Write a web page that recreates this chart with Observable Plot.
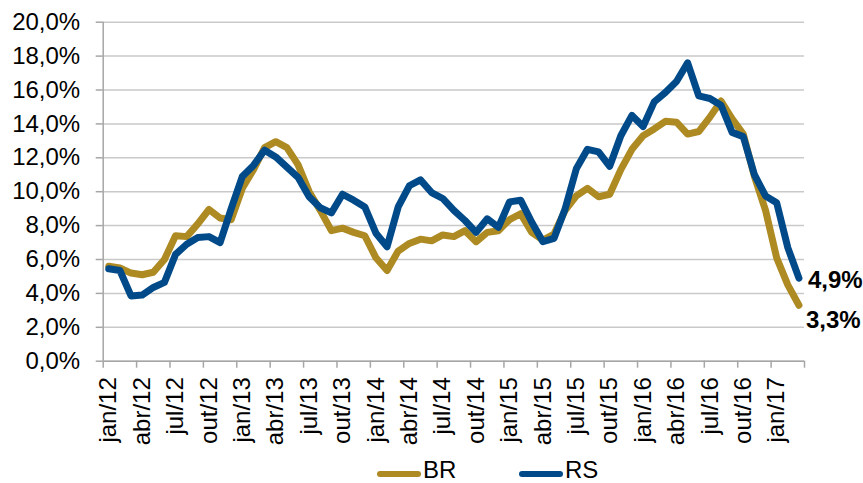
<!DOCTYPE html>
<html>
<head>
<meta charset="utf-8">
<script src="https://cdn.jsdelivr.net/npm/d3@7"></script>
<script src="https://cdn.jsdelivr.net/npm/@observablehq/plot@0.6"></script>
<style>
  body { margin: 0; background: #fff; font-family: "Liberation Sans", Arial, sans-serif; }
  #wrap { position: relative; width: 863px; height: 483px; }
  #legend { position: absolute; left: 0; top: 455px; width: 863px; height: 28px; font-size: 24px; color: #000; }
  .sw { position: absolute; top: 16px; width: 44px; height: 6px; border-radius: 3px; }
  .lt { position: absolute; top: 1px; line-height: normal; }
</style>
</head>
<body>
<div id="wrap">
  <div id="chart"></div>
  <div id="legend"></div>
</div>
<script>
const months = [
  "jan/12","fev/12","mar/12","abr/12","mai/12","jun/12","jul/12","ago/12","set/12","out/12","nov/12","dez/12",
  "jan/13","fev/13","mar/13","abr/13","mai/13","jun/13","jul/13","ago/13","set/13","out/13","nov/13","dez/13",
  "jan/14","fev/14","mar/14","abr/14","mai/14","jun/14","jul/14","ago/14","set/14","out/14","nov/14","dez/14",
  "jan/15","fev/15","mar/15","abr/15","mai/15","jun/15","jul/15","ago/15","set/15","out/15","nov/15","dez/15",
  "jan/16","fev/16","mar/16","abr/16","mai/16","jun/16","jul/16","ago/16","set/16","out/16","nov/16","dez/16",
  "jan/17","fev/17","mar/17"
];
const br = [
  5.6, 5.5, 5.2, 5.1, 5.25, 6.0, 7.4, 7.35, 8.1, 8.95, 8.45, 8.35,
  10.2, 11.3, 12.6, 12.95, 12.6, 11.6, 10.0, 8.9, 7.7, 7.85, 7.6, 7.4,
  6.1, 5.35, 6.5, 6.95, 7.2, 7.1, 7.45, 7.35, 7.7, 7.05, 7.6, 7.7,
  8.35, 8.7, 7.6, 7.15, 7.5, 8.9, 9.75, 10.2, 9.7, 9.85, 11.3, 12.5,
  13.3, 13.7, 14.15, 14.1, 13.4, 13.55, 14.4, 15.35, 14.3, 13.4, 10.9, 8.9,
  6.1, 4.5, 3.3
];
const rs = [
  5.45, 5.35, 3.85, 3.9, 4.35, 4.65, 6.3, 6.9, 7.3, 7.35, 7.0, 9.0,
  10.9, 11.55, 12.45, 12.05, 11.45, 10.85, 9.7, 9.05, 8.75, 9.85, 9.5, 9.1,
  7.55, 6.75, 9.1, 10.35, 10.7, 9.95, 9.6, 8.9, 8.3, 7.6, 8.4, 7.9,
  9.4, 9.5, 8.2, 7.05, 7.25, 9.0, 11.35, 12.5, 12.35, 11.5, 13.3, 14.5,
  13.85, 15.3, 15.85, 16.5, 17.6, 15.65, 15.5, 15.1, 13.5, 13.25, 11.0, 9.75,
  9.35, 6.7, 4.9
];
const tickLabels = ["jan/12","abr/12","jul/12","out/12","jan/13","abr/13","jul/13","out/13","jan/14","abr/14","jul/14",
  "out/14","jan/15","abr/15","jul/15","out/15","jan/16","abr/16","jul/16","out/16","jan/17"];
const yTicks = [0, 2, 4, 6, 8, 10, 12, 14, 16, 18, 20];
const seriesNames = ["BR", "RS"];
const colors = ["#AE8A23", "#004A89"];

const data = months.map((m, i) => ({i, m, br: br[i], rs: rs[i]}));
const labelIdx = tickLabels.map(l => months.indexOf(l));
const boundaries = d3.range(0, months.length + 1, 3).map(k => k - 0.5);
if (boundaries[boundaries.length - 1] !== months.length - 0.5) boundaries.push(months.length - 0.5);
const last = data[data.length - 1];
const fmt = v => v.toFixed(1).replace(".", ",") + "%";
const axisGray = "#a6a6a6";

const chart = Plot.plot({
  width: 863,
  height: 455,
  marginLeft: 102.7,
  marginRight: 59,
  marginTop: 21.7,
  marginBottom: 94.3,
  style: {fontFamily: "'Liberation Sans', Arial, sans-serif", fontSize: "24px", color: "#000", background: "#fff"},
  x: {type: "linear", domain: [-0.5, months.length - 0.5]},
  y: {domain: [0, 20]},
  marks: [
    Plot.gridY(yTicks, {stroke: "#c9c9c9", strokeOpacity: 1, strokeWidth: 1.5}),
    Plot.ruleX([-0.5], {stroke: axisGray, strokeWidth: 1.5}),
    Plot.ruleY([0], {stroke: axisGray, strokeWidth: 1.5}),
    Plot.axisY({ticks: yTicks, tickSize: 7, tickPadding: 16, tickFormat: fmt, fontSize: 24, stroke: axisGray, strokeWidth: 1.5, fill: "#000", label: null}),
    Plot.axisX({ticks: boundaries, tickSize: 7, tickFormat: () => "", stroke: axisGray, strokeWidth: 1.5, label: null}),
    Plot.axisX({ticks: labelIdx, tickSize: 0, tickPadding: 16, tickRotate: -90, tickFormat: i => months[i], fontSize: 24, fill: "#000", label: null}),
    Plot.line(data, {x: "i", y: "br", stroke: colors[0], strokeWidth: 7, strokeLinejoin: "round"}),
    Plot.line(data, {x: "i", y: "rs", stroke: colors[1], strokeWidth: 7, strokeLinejoin: "round"}),
    Plot.text([last], {x: "i", y: "rs", text: d => fmt(d.rs), dx: 9, dy: 2, textAnchor: "start", fontWeight: "bold", fontSize: 24, fill: "#000"}),
    Plot.text([last], {x: "i", y: "br", text: d => fmt(d.br), dx: 7, dy: 15, textAnchor: "start", fontWeight: "bold", fontSize: 24, fill: "#000"})
  ]
});
document.getElementById("chart").appendChild(chart);

const legend = document.getElementById("legend");
const swLeft = [377, 519];
seriesNames.forEach((name, k) => {
  const sw = document.createElement("div");
  sw.className = "sw";
  sw.style.left = swLeft[k] + "px";
  sw.style.background = colors[k];
  legend.appendChild(sw);
  const t = document.createElement("div");
  t.className = "lt";
  t.style.left = (swLeft[k] + 46) + "px";
  t.textContent = name;
  legend.appendChild(t);
});
</script>
</body>
</html>
